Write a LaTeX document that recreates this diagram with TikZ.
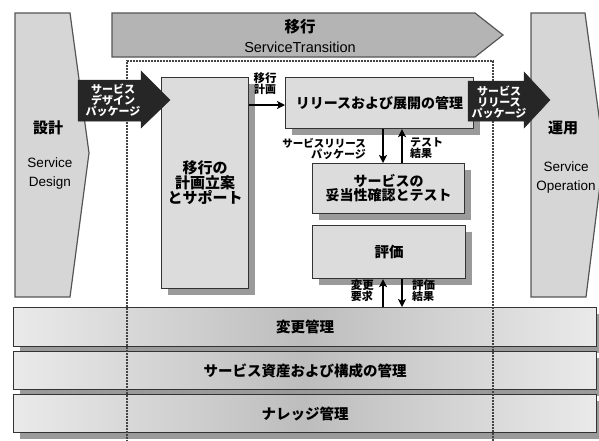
\documentclass[tikz,border=0pt]{standalone}
\usepackage{fontspec}
\setmainfont{Liberation Sans}
\newfontfamily\jp{Noto Sans CJK JP}
\usetikzlibrary{shadows,arrows.meta}
\definecolor{boxfill}{HTML}{DCDCDC}
\definecolor{boxdraw}{HTML}{333333}
\definecolor{shad}{HTML}{9A9A9A}
\definecolor{bannerfill}{HTML}{B4B4B4}
\definecolor{bannerdraw}{HTML}{555555}
\definecolor{phasefill}{HTML}{D6D6D6}
\definecolor{blk}{HTML}{262626}
\definecolor{bandlight}{HTML}{EAEAEA}
\definecolor{banddark}{HTML}{BDBDBD}
\definecolor{dotcol}{HTML}{444444}
\tikzset{
  jpfont/.style={font=\jp\bfseries\fontsize{#1}{#1}\selectfont},
  procbox/.style={draw=boxdraw, fill=boxfill, line width=1.1pt, inner sep=0pt,
    drop shadow={shadow xshift=6pt, shadow yshift=-6pt, fill=shad, opacity=1},
    align=center, anchor=north west},
  band/.style={draw=boxdraw, line width=1.1pt, inner sep=0pt, anchor=north west,
    left color=bandlight, right color=bandlight, middle color=banddark,
    drop shadow={shadow xshift=6pt, shadow yshift=-6pt, fill=shad, opacity=1},
    minimum width=583pt},
  phase/.style={draw=bannerdraw, fill=phasefill, line width=1.2pt, line join=miter},
  blackarrow/.style={fill=blk, draw=blk, line width=0.5pt},
  conn/.style={line width=1.6pt, -{Stealth[length=8pt,width=8pt,inset=2pt]}},
  lbl/.style={jpfont=11, align=#1, inner sep=0pt},
  lbl/.default=center,
  wlbl/.style={jpfont=11, text=white, align=center, inner sep=0pt},
  entext/.style={font=\fontsize{13.5}{19}\selectfont, align=center, inner sep=0pt},
}
\begin{document}
\begin{tikzpicture}[x=1pt,y=-1pt]
\useasboundingbox (0,0) rectangle (599,440);
\clip (0,0) rectangle (599,440);
% phase shapes
\draw[phase] (15,13) -- (70,13) -- (89,153) -- (70,297) -- (15,297) -- cycle;
\draw[phase] (531,13) -- (585,13) -- (604,153) -- (586,297) -- (531,297) -- cycle;
\draw[draw=bannerdraw, fill=bannerfill, line width=1.2pt] (112,13) -- (475,13) -- (503,35) -- (475,57) -- (112,57) -- cycle;
\node[jpfont=15.5, inner sep=0pt] (tr) at (300,27) {移行};
\node[font=\fontsize{14.5}{16}\selectfont, inner sep=0pt] (trEn) at (300,47) {ServiceTransition};
\node[jpfont=15, inner sep=0pt] (sd) at (48,128) {設計};
\node[entext] (sdEn) at (50,174) {Service\\Design};
\node[jpfont=15, inner sep=0pt] (so) at (563,128) {運用};
\node[entext] (soEn) at (566,178) {Service\\Operation};
% bands
\node[band, minimum height=39pt] (b1) at (13,307) {};
\node[band, minimum height=38pt] (b2) at (13,351) {};
\node[band, minimum height=38pt] (b3) at (13,394) {};
\node[jpfont=14.5] at (b1.center) {変更管理};
\node[jpfont=14.5] at (b2.center) {サービス資産および構成の管理};
\node[jpfont=14.5] at (b3.center) {ナレッジ管理};
% dotted scope
\draw[dotcol, line width=1.8pt, dash pattern=on 1.6pt off 1.4pt] (127,445) -- (127,61) -- (493,61) -- (493,445);
% process boxes
\node[procbox, minimum width=87pt, minimum height=211pt, jpfont=15] (plan) at (161,77)
  {\fontsize{15}{18}\selectfont 移行の\\計画立案\\とサポート};
\node[procbox, minimum width=188pt, minimum height=51pt, jpfont=14] (rel) at (285,77) {リリースおよび展開の管理};
\node[procbox, minimum width=152pt, minimum height=50pt, jpfont=14] (val) at (312,163)
  {\fontsize{14}{18}\selectfont サービスの\\妥当性確認とテスト};
\node[procbox, minimum width=153pt, minimum height=53pt, jpfont=14.5] (ev) at (312,225) {評価};
% black arrows
\draw[blackarrow] (78,80) -- (141,80) -- (141,71) -- (170,100) -- (141,128) -- (141,121) -- (78,121) -- cycle;
\node[wlbl] (sdp) at (113,100) {\fontsize{11}{14.5}\selectfont サービス\\デザイン\\パッケージ};
\draw[blackarrow] (468,81) -- (524,81) -- (524,72) -- (550,100) -- (524,128) -- (524,121) -- (468,121) -- cycle;
\node[wlbl] (srp) at (499,102) {\fontsize{11}{15}\selectfont サービス\\リリース\\パッケージ};
% connectors
\coordinate (ya) at (0,105);
\coordinate (xa) at (383,0);
\coordinate (xb) at (402,0);
\draw[conn] (plan.east |- ya) -- (rel.west |- ya);
\node[lbl] (l1) at (265,84) {\fontsize{11.5}{13}\selectfont 移行\\計画};
\draw[conn] (rel.south -| xa) -- (val.north -| xa);
\draw[conn] (val.north -| xb) -- (rel.south -| xb);
\node[lbl=right, anchor=east] (l2) at (366,148.5) {\fontsize{10.5}{17}\selectfont サービスリリース\\パッケージ};
\node[lbl=left, anchor=west] (l3) at (410,148.5) {\fontsize{11}{17}\selectfont テスト\\結果};
\draw[conn] (b1.north -| xa) -- (ev.south -| xa);
\draw[conn] (ev.south -| xb) -- (b1.north -| xb);
\node[lbl=left, anchor=east] (l4) at (374,291) {\fontsize{11.5}{13.5}\selectfont 変更\\要求};
\node[lbl=left, anchor=west] (l5) at (412,291) {\fontsize{11.5}{13.5}\selectfont 評価\\結果};
\end{tikzpicture}
\end{document}
